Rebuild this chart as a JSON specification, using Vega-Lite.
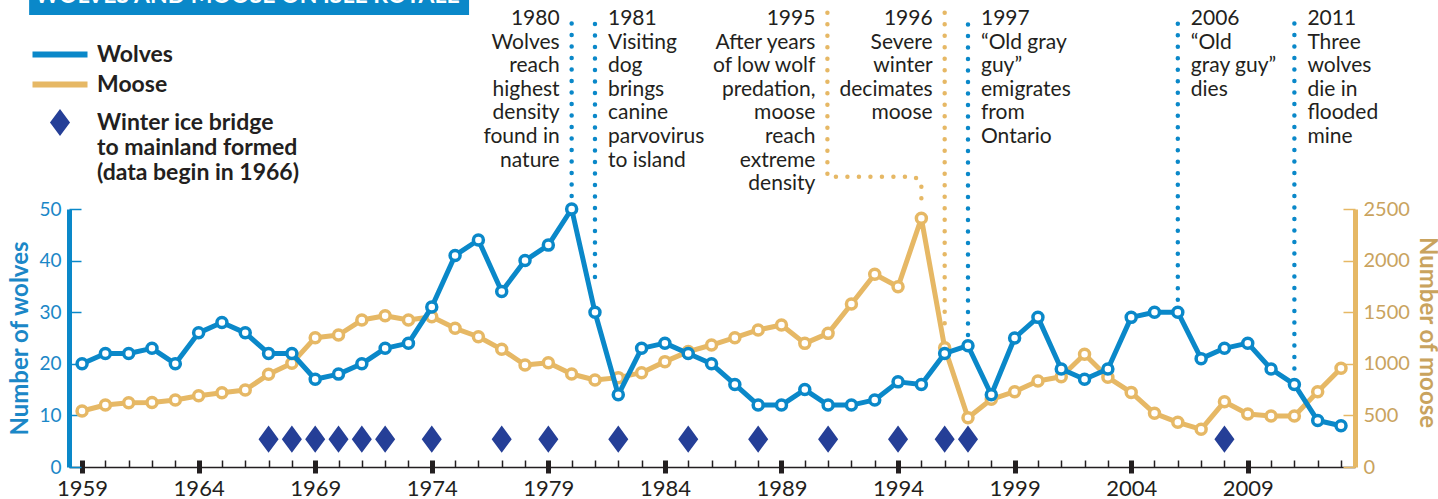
{
  "$schema": "https://vega.github.io/schema/vega-lite/v6.json",
  "width": 1286,
  "height": 258,
  "autosize": {"type": "none"},
  "padding": {"left": 69, "top": 209, "right": 83, "bottom": 32},
  "config": {
    "view": {"stroke": null},
    "font": "Lato",
    "axis": {"labelFont": "Lato", "titleFont": "Lato", "grid": false}
  },
  "datasets": {
    "populations": [
      {"year": 1959, "wolves": 20, "moose": 543},
      {"year": 1960, "wolves": 22, "moose": 601},
      {"year": 1961, "wolves": 22, "moose": 623},
      {"year": 1962, "wolves": 23, "moose": 625},
      {"year": 1963, "wolves": 20, "moose": 649},
      {"year": 1964, "wolves": 26, "moose": 691},
      {"year": 1965, "wolves": 28, "moose": 720},
      {"year": 1966, "wolves": 26, "moose": 746},
      {"year": 1967, "wolves": 22, "moose": 898},
      {"year": 1968, "wolves": 22, "moose": 1005},
      {"year": 1969, "wolves": 17, "moose": 1253},
      {"year": 1970, "wolves": 18, "moose": 1279},
      {"year": 1971, "wolves": 20, "moose": 1424},
      {"year": 1972, "wolves": 23, "moose": 1466},
      {"year": 1973, "wolves": 24, "moose": 1424},
      {"year": 1974, "wolves": 31, "moose": 1456},
      {"year": 1975, "wolves": 41, "moose": 1344},
      {"year": 1976, "wolves": 44, "moose": 1262},
      {"year": 1977, "wolves": 34, "moose": 1140},
      {"year": 1978, "wolves": 40, "moose": 988},
      {"year": 1979, "wolves": 43, "moose": 1011},
      {"year": 1980, "wolves": 50, "moose": 901},
      {"year": 1981, "wolves": 30, "moose": 843},
      {"year": 1982, "wolves": 14, "moose": 866},
      {"year": 1983, "wolves": 23, "moose": 914},
      {"year": 1984, "wolves": 24, "moose": 1021},
      {"year": 1985, "wolves": 22, "moose": 1118},
      {"year": 1986, "wolves": 20, "moose": 1182},
      {"year": 1987, "wolves": 16, "moose": 1253},
      {"year": 1988, "wolves": 12, "moose": 1328},
      {"year": 1989, "wolves": 12, "moose": 1376},
      {"year": 1990, "wolves": 15, "moose": 1198},
      {"year": 1991, "wolves": 12, "moose": 1295},
      {"year": 1992, "wolves": 12, "moose": 1580},
      {"year": 1993, "wolves": 13, "moose": 1867},
      {"year": 1994, "wolves": 16.5, "moose": 1747},
      {"year": 1995, "wolves": 16, "moose": 2410},
      {"year": 1996, "wolves": 22, "moose": 1156},
      {"year": 1997, "wolves": 23.5, "moose": 478},
      {"year": 1998, "wolves": 14, "moose": 656},
      {"year": 1999, "wolves": 25, "moose": 730},
      {"year": 2000, "wolves": 29, "moose": 833},
      {"year": 2001, "wolves": 19, "moose": 875},
      {"year": 2002, "wolves": 17, "moose": 1092},
      {"year": 2003, "wolves": 19, "moose": 869},
      {"year": 2004, "wolves": 29, "moose": 723},
      {"year": 2005, "wolves": 30, "moose": 520},
      {"year": 2006, "wolves": 30, "moose": 433},
      {"year": 2007, "wolves": 21, "moose": 365},
      {"year": 2008, "wolves": 23, "moose": 633},
      {"year": 2009, "wolves": 24, "moose": 514},
      {"year": 2010, "wolves": 19, "moose": 494},
      {"year": 2011, "wolves": 16, "moose": 494},
      {"year": 2012, "wolves": 9, "moose": 730},
      {"year": 2013, "wolves": 8, "moose": 956}
    ],
    "icebridge": [
      {"year": 1967, "series": "Winter ice bridge to mainland formed (data begin in 1966)"},
      {"year": 1968, "series": "Winter ice bridge to mainland formed (data begin in 1966)"},
      {"year": 1969, "series": "Winter ice bridge to mainland formed (data begin in 1966)"},
      {"year": 1970, "series": "Winter ice bridge to mainland formed (data begin in 1966)"},
      {"year": 1971, "series": "Winter ice bridge to mainland formed (data begin in 1966)"},
      {"year": 1972, "series": "Winter ice bridge to mainland formed (data begin in 1966)"},
      {"year": 1974, "series": "Winter ice bridge to mainland formed (data begin in 1966)"},
      {"year": 1977, "series": "Winter ice bridge to mainland formed (data begin in 1966)"},
      {"year": 1979, "series": "Winter ice bridge to mainland formed (data begin in 1966)"},
      {"year": 1982, "series": "Winter ice bridge to mainland formed (data begin in 1966)"},
      {"year": 1985, "series": "Winter ice bridge to mainland formed (data begin in 1966)"},
      {"year": 1988, "series": "Winter ice bridge to mainland formed (data begin in 1966)"},
      {"year": 1991, "series": "Winter ice bridge to mainland formed (data begin in 1966)"},
      {"year": 1994, "series": "Winter ice bridge to mainland formed (data begin in 1966)"},
      {"year": 1996, "series": "Winter ice bridge to mainland formed (data begin in 1966)"},
      {"year": 1997, "series": "Winter ice bridge to mainland formed (data begin in 1966)"},
      {"year": 2008, "series": "Winter ice bridge to mainland formed (data begin in 1966)"}
    ],
    "events": [
      {"year": 1980, "series": "Wolves", "lineYear": 1980, "lineEnd": 52.5, "lines": ["1980", "Wolves", "reach", "highest", "density", "found in", "nature"]},
      {"year": 1981, "series": "Wolves", "lineYear": 1981, "lineEnd": 36.8, "lines": ["1981", "Visiting", "dog", "brings", "canine", "parvovirus", "to island"]},
      {"year": 1995, "series": "Moose", "lineYear": 1990.97, "lineEnd": null, "lines": ["1995", "After years", "of low wolf", "predation,", "moose", "reach", "extreme", "density"]},
      {"year": 1996, "series": "Moose", "lineYear": 1996, "lineEnd": 1392, "lines": ["1996", "Severe", "winter", "decimates", "moose"]},
      {"year": 1997, "series": "Wolves", "lineYear": 1997, "lineEnd": 25.6, "lines": ["1997", "“Old gray", "guy”", "emigrates", "from", "Ontario"]},
      {"year": 2006, "series": "Wolves", "lineYear": 2006, "lineEnd": 32.4, "lines": ["2006", "“Old", "gray guy”", "dies"]},
      {"year": 2011, "series": "Wolves", "lineYear": 2011, "lineEnd": 19.1, "lines": ["2011", "Three", "wolves", "die in", "flooded", "mine"]}
    ],
    "connector": [
      {"step": 0, "year": 1990.97, "moose": 4402},
      {"step": 1, "year": 1990.97, "moose": 2813},
      {"step": 2, "year": 1994.7, "moose": 2813},
      {"step": 3, "year": 1995, "moose": 2765},
      {"step": 4, "year": 1995, "moose": 2539}
    ]
  },
  "layer": [
    {
      "data": {"name": "populations"},
      "mark": {"type": "line", "color": "#e6b865", "strokeWidth": 5, "strokeJoin": "round"},
      "encoding": {
        "x": {
          "field": "year", "type": "quantitative",
          "scale": {"domain": [1958.44, 2013.6], "nice": false, "zero": false},
          "axis": {
            "orient": "bottom", "title": null, "domain": false,
            "values": [1959, 1964, 1969, 1974, 1979, 1984, 1989, 1994, 1999, 2004, 2009],
            "format": "d", "tickSize": 6, "tickWidth": 5, "tickColor": "#231f20",
            "labelFontSize": 22, "labelColor": "#231f20", "labelPadding": 5,
            "labelFlush": false, "labelOverlap": false
          }
        },
        "y": {
          "field": "moose", "type": "quantitative",
          "scale": {"domain": [0, 2500], "nice": false},
          "axis": {
            "orient": "right", "values": [0, 500, 1000, 1500, 2000, 2500], "format": "d",
            "domainColor": "#e6b865", "domainWidth": 5,
            "tickColor": "#e6b865", "tickWidth": 1.5, "tickSize": -12,
            "labelPadding": 20, "labelColor": "#c9a35e", "labelFontSize": 20,
            "labelBaseline": "middle",
            "title": "Number of moose", "titleColor": "#c9a35e", "titleFontSize": 24,
            "titleFontWeight": "bold", "titleAngle": 90, "titleAlign": "center",
            "titleBaseline": "middle", "titleX": 71, "titleY": 123
          }
        }
      }
    },
    {
      "data": {"name": "populations"},
      "mark": {"type": "point", "shape": "circle", "filled": true, "fill": "white", "stroke": "#e6b865", "strokeWidth": 3.5, "size": 100, "opacity": 1},
      "encoding": {
        "x": {"field": "year", "type": "quantitative", "scale": {"domain": [1958.44, 2013.6], "nice": false, "zero": false}, "axis": null},
        "y": {"field": "moose", "type": "quantitative", "scale": {"domain": [0, 2500], "nice": false}, "axis": null}
      }
    },
    {
      "data": {"name": "events"},
      "transform": [{"filter": "datum.year == 1996"}],
      "mark": {"type": "rule", "color": "#e6b865", "strokeWidth": 4.5, "strokeDash": [0, 11.5], "strokeCap": "round"},
      "encoding": {
        "x": {"field": "lineYear", "type": "quantitative", "scale": {"domain": [1958.44, 2013.6], "nice": false, "zero": false}, "axis": null},
        "y": {"field": "lineEnd", "type": "quantitative", "scale": {"domain": [0, 2500], "nice": false}, "axis": null},
        "y2": {"datum": 4402}
      }
    },
    {
      "data": {"name": "connector"},
      "mark": {"type": "line", "color": "#e6b865", "strokeWidth": 4.5, "strokeDash": [0, 11.5], "strokeCap": "round"},
      "encoding": {
        "x": {"field": "year", "type": "quantitative", "scale": {"domain": [1958.44, 2013.6], "nice": false, "zero": false}, "axis": null},
        "y": {"field": "moose", "type": "quantitative", "scale": {"domain": [0, 2500], "nice": false}, "axis": null},
        "order": {"field": "step", "type": "quantitative"}
      }
    },
    {
      "data": {"name": "populations"},
      "mark": {"type": "line", "color": "#0a88c9", "strokeWidth": 5, "strokeJoin": "round"},
      "encoding": {
        "x": {
          "field": "year", "type": "quantitative",
          "scale": {"domain": [1958.44, 2013.6], "nice": false, "zero": false},
          "axis": {
            "orient": "bottom", "title": null, "labels": false,
            "values": [1959, 1960, 1961, 1962, 1963, 1964, 1965, 1966, 1967, 1968, 1969, 1970, 1971, 1972, 1973, 1974, 1975, 1976, 1977, 1978, 1979, 1980, 1981, 1982, 1983, 1984, 1985, 1986, 1987, 1988, 1989, 1990, 1991, 1992, 1993, 1994, 1995, 1996, 1997, 1998, 1999, 2000, 2001, 2002, 2003, 2004, 2005, 2006, 2007, 2008, 2009, 2010, 2011, 2012, 2013],
            "domain": true, "domainColor": "#231f20", "domainWidth": 1.5,
            "tickColor": "#231f20", "tickSize": -7,
            "tickWidth": {"condition": {"test": "(datum.value - 1959) % 5 === 0", "value": 5}, "value": 1.5}
          }
        },
        "y": {
          "field": "wolves", "type": "quantitative",
          "scale": {"domain": [0, 50], "nice": false},
          "axis": {
            "orient": "left", "values": [0, 10, 20, 30, 40, 50],
            "domainColor": "#0a88c9", "domainWidth": 5,
            "tickColor": "#0a88c9", "tickWidth": 1.5, "tickSize": -12,
            "labelPadding": 20, "labelColor": "#1b87c7", "labelFontSize": 19,
            "labelBaseline": "middle",
            "title": "Number of wolves", "titleColor": "#1b87c7", "titleFontSize": 24,
            "titleFontWeight": "bold", "titleAngle": -90, "titleAlign": "center",
            "titleBaseline": "middle", "titleX": -49, "titleY": 129
          }
        }
      }
    },
    {
      "data": {"name": "populations"},
      "mark": {"type": "point", "shape": "circle", "filled": true, "fill": "white", "stroke": "#0a88c9", "strokeWidth": 3.5, "size": 100, "opacity": 1},
      "encoding": {
        "x": {"field": "year", "type": "quantitative", "scale": {"domain": [1958.44, 2013.6], "nice": false, "zero": false}, "axis": null},
        "y": {"field": "wolves", "type": "quantitative", "scale": {"domain": [0, 50], "nice": false}, "axis": null}
      }
    },
    {
      "data": {"name": "icebridge"},
      "mark": {"type": "point", "filled": false, "fill": "#253f97", "size": 100, "opacity": 1, "strokeWidth": 6, "strokeJoin": "miter"},
      "encoding": {
        "x": {"field": "year", "type": "quantitative", "scale": {"domain": [1958.44, 2013.6], "nice": false, "zero": false}, "axis": null},
        "y": {"datum": 5.4, "type": "quantitative", "scale": {"domain": [0, 50], "nice": false}, "axis": null},
        "color": {
          "field": "series", "type": "nominal",
          "scale": {"domain": ["Wolves", "Moose", "Winter ice bridge to mainland formed (data begin in 1966)"], "range": ["#0a88c9", "#e6b865", "#253f97"]},
          "legend": {
            "title": null, "orient": "none", "legendX": -20.5, "legendY": -166,
            "padding": 0, "rowPadding": 5, "symbolSize": 100, "symbolStrokeWidth": 6,
            "labelFont": "Lato", "labelFontSize": 23, "labelFontWeight": "bold",
            "labelColor": "#231f20", "labelLimit": 400, "labelOffset": 25.5,
            "labelBaseline": "middle",
            "labelExpr": "datum.value === 'Winter ice bridge to mainland formed (data begin in 1966)' ? ['Winter ice bridge', 'to mainland formed', '(data begin in 1966)'] : datum.label"
          }
        },
        "shape": {
          "field": "series", "type": "nominal",
          "scale": {"domain": ["Wolves", "Moose", "Winter ice bridge to mainland formed (data begin in 1966)"], "range": ["M-5.5,0H5.5", "M-5.5,0H5.5", "M-5.5,0M5.5,0M0,-1.7L1.26,0L0,1.7L-1.26,0Z"]},
          "legend": {
            "title": null, "orient": "none", "legendX": -20.5, "legendY": -166,
            "padding": 0, "rowPadding": 5, "symbolSize": 100, "symbolStrokeWidth": 6,
            "labelFont": "Lato", "labelFontSize": 23, "labelFontWeight": "bold",
            "labelColor": "#231f20", "labelLimit": 400, "labelOffset": 25.5,
            "labelBaseline": "middle",
            "labelExpr": "datum.value === 'Winter ice bridge to mainland formed (data begin in 1966)' ? ['Winter ice bridge', 'to mainland formed', '(data begin in 1966)'] : datum.label"
          }
        }
      }
    },
    {
      "data": {"name": "events"},
      "transform": [{"filter": "datum.series == 'Wolves'"}],
      "mark": {"type": "rule", "color": "#0a88c9", "strokeWidth": 4.5, "strokeDash": [0, 11.5], "strokeCap": "round"},
      "encoding": {
        "x": {"field": "lineYear", "type": "quantitative", "scale": {"domain": [1958.44, 2013.6], "nice": false, "zero": false}, "axis": null},
        "y": {"field": "lineEnd", "type": "quantitative", "scale": {"domain": [0, 50], "nice": false}, "axis": null},
        "y2": {"datum": 88.0}
      }
    },
    {
      "data": {"name": "events"},
      "transform": [{"filter": {"field": "year", "oneOf": [1980, 1995, 1996]}}],
      "mark": {"type": "text", "align": "right", "baseline": "alphabetic", "fontSize": 21, "lineHeight": 23.6, "dx": -12, "color": "#231f20", "font": "Lato"},
      "encoding": {
        "x": {"field": "lineYear", "type": "quantitative", "scale": {"domain": [1958.44, 2013.6], "nice": false, "zero": false}, "axis": null},
        "y": {"datum": 85.66, "type": "quantitative", "scale": {"domain": [0, 50], "nice": false}, "axis": null},
        "text": {"field": "lines", "type": "nominal"}
      }
    },
    {
      "data": {"name": "events"},
      "transform": [{"filter": {"field": "year", "oneOf": [1981, 1997, 2006, 2011]}}],
      "mark": {"type": "text", "align": "left", "baseline": "alphabetic", "fontSize": 21, "lineHeight": 23.6, "dx": 13, "color": "#231f20", "font": "Lato"},
      "encoding": {
        "x": {"field": "lineYear", "type": "quantitative", "scale": {"domain": [1958.44, 2013.6], "nice": false, "zero": false}, "axis": null},
        "y": {"datum": 85.66, "type": "quantitative", "scale": {"domain": [0, 50], "nice": false}, "axis": null},
        "text": {"field": "lines", "type": "nominal"}
      }
    },
    {
      "data": {"values": [{"title": "WOLVES AND MOOSE ON ISLE ROYALE"}]},
      "mark": {"type": "rect", "color": "#0a88c9"},
      "encoding": {
        "x": {"datum": 1956.73, "type": "quantitative", "scale": {"domain": [1958.44, 2013.6], "nice": false, "zero": false}, "axis": null},
        "x2": {"datum": 1975.6},
        "y": {"datum": 92, "type": "quantitative", "scale": {"domain": [0, 50], "nice": false}, "axis": null},
        "y2": {"datum": 87.6}
      }
    },
    {
      "data": {"values": [{"title": "WOLVES AND MOOSE ON ISLE ROYALE"}]},
      "mark": {"type": "text", "align": "center", "baseline": "alphabetic", "fontSize": 23, "fontWeight": "bold", "color": "white", "font": "Lato"},
      "encoding": {
        "x": {"datum": 1966.09, "type": "quantitative", "scale": {"domain": [1958.44, 2013.6], "nice": false, "zero": false}, "axis": null},
        "y": {"datum": 90.0, "type": "quantitative", "scale": {"domain": [0, 50], "nice": false}, "axis": null},
        "text": {"field": "title", "type": "nominal"}
      }
    }
  ],
  "resolve": {
    "scale": {"y": "independent"},
    "axis": {"x": "independent", "y": "independent"}
  }
}
